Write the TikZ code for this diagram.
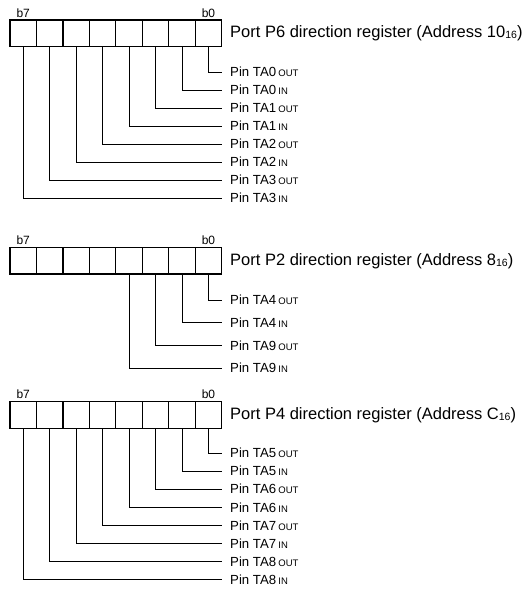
\documentclass[tikz,border=0pt]{standalone}
\usepackage{fontspec}
\setmainfont{Liberation Sans}
\newcommand\smtxt[1]{{\fontsize{9.5}{9.5}\selectfont #1}}
\newcommand\subnum[1]{\raisebox{-1pt}{\fontsize{10.5}{10.5}\selectfont #1}}
\begin{document}
\begin{tikzpicture}[x=1pt,y=-1pt,
  cell/.style={draw,line width=1.2pt,minimum width=26.46pt,minimum height=26.5pt,inner sep=0pt,outer sep=0pt},
  pinlbl/.style={anchor=west,inner sep=0pt,font=\fontsize{13.2}{13.2}\selectfont,text height=9.5pt,text depth=0pt},
  regtitle/.style={anchor=west,inner sep=0pt,font=\fontsize{16.5}{17}\selectfont},
  bitlbl/.style={font=\fontsize{12}{12}\selectfont,inner sep=0pt},
  wire/.style={line width=0.8pt}]
\useasboundingbox (0,0) rectangle (528,590);

% ---------- Register P6 ----------
\foreach \i in {0,...,7}
  \node[cell] (ac\i) at ({221.7-26.46*(\i+0.5)},33.25) {};
\node[bitlbl,above=2.5pt] (ab7) at (ac7.north) {b7};
\node[bitlbl,above=2.5pt] (ab0) at (ac0.north) {b0};
\node[regtitle] (at) at (230,33.25) {Port P6 direction register (Address 10\subnum{16})};
\foreach \i/\t/\s in {0/0/OUT,1/0/IN,2/1/OUT,3/1/IN,4/2/OUT,5/2/IN,6/3/OUT,7/3/IN}
  \node[pinlbl] (al\i) at (230,{72+18*\i}) {Pin TA\t\,\smtxt{\s}};
\foreach \i in {0,...,7}
  \draw[wire] (ac\i.south) |- ([xshift=-8.3pt]al\i.west);

% ---------- Register P2 ----------
\foreach \i in {0,...,7}
  \node[cell] (bc\i) at ({221.7-26.46*(\i+0.5)},260.75) {};
\node[bitlbl,above=2.5pt] (bb7) at (bc7.north) {b7};
\node[bitlbl,above=2.5pt] (bb0) at (bc0.north) {b0};
\node[regtitle] (bt) at (230,260.75) {Port P2 direction register (Address 8\subnum{16})};
\foreach \i/\t/\s in {0/4/OUT,1/4/IN,2/9/OUT,3/9/IN}
  \node[pinlbl] (bl\i) at (230,{300+22.7*\i}) {Pin TA\t\,\smtxt{\s}};
\foreach \i in {0,...,3}
  \draw[wire] (bc\i.south) |- ([xshift=-8.3pt]bl\i.west);

% ---------- Register P4 ----------
\foreach \i in {0,...,7}
  \node[cell] (cc\i) at ({221.7-26.46*(\i+0.5)},415) {};
\node[bitlbl,above=2.5pt] (cb7) at (cc7.north) {b7};
\node[bitlbl,above=2.5pt] (cb0) at (cc0.north) {b0};
\node[regtitle] (ct) at (230,415) {Port P4 direction register (Address C\subnum{16})};
\foreach \i/\t/\s in {0/5/OUT,1/5/IN,2/6/OUT,3/6/IN,4/7/OUT,5/7/IN,6/8/OUT,7/8/IN}
  \node[pinlbl] (cl\i) at (230,{453+18.1*\i}) {Pin TA\t\,\smtxt{\s}};
\foreach \i in {0,...,7}
  \draw[wire] (cc\i.south) |- ([xshift=-8.3pt]cl\i.west);
\end{tikzpicture}
\end{document}
